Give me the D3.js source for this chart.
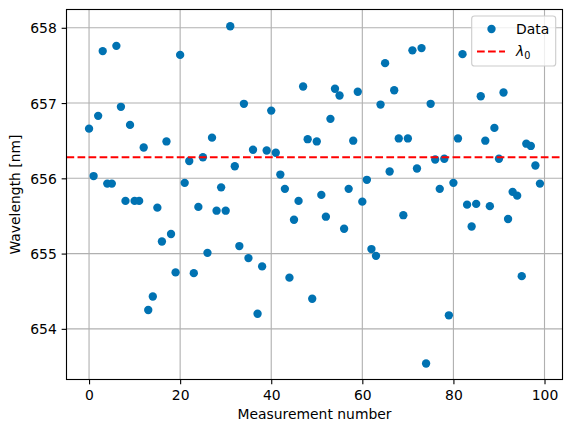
<!DOCTYPE html>
<html><head><meta charset="utf-8">
<script src="https://cdn.jsdelivr.net/npm/d3@7"></script>
<style>body{margin:0;background:#fff}svg{display:block;font-family:"DejaVu Sans",sans-serif}</style>
</head><body>
<svg id="c" width="571" height="432"></svg>
<script>
const measurement = d3.range(0, 100);
const wavelength = [
656.66,656.03,656.83,657.69,655.93,655.93,657.76,656.95,655.70,656.71,
655.70,655.70,656.41,654.25,654.43,655.61,655.16,656.49,655.26,654.75,
657.64,655.94,656.23,654.74,655.62,656.28,655.01,656.54,655.57,655.88,
655.57,658.02,656.16,655.10,656.99,654.94,656.38,654.20,654.83,656.37,
656.90,656.34,656.05,655.86,654.68,655.45,655.70,657.22,656.52,654.40,
656.49,655.78,655.49,656.79,657.19,657.10,655.33,655.86,656.50,657.15,
655.69,655.98,655.06,654.97,656.98,657.53,656.09,657.17,656.53,655.51,
656.53,657.70,656.13,657.73,653.54,656.99,656.25,655.86,656.26,654.18,
655.94,656.53,657.65,655.65,655.36,655.66,657.09,656.50,655.63,656.67,
656.26,657.14,655.46,655.82,655.77,654.70,656.46,656.43,656.17,655.93];
const lambda0 = 656.28;
const xTicks = [0, 20, 40, 60, 80, 100];
const yTicks = [654, 655, 656, 657, 658];
const legendLabels = ["Data", "λ0"];

const svg = d3.select("#c");
const L = 66.5, T = 9.5, W = 496, H = 370;
const x = d3.scaleLinear().domain([-4.95, 103.95]).range([L, L + W]);
const y = d3.scaleLinear().domain([653.327, 658.243]).range([T + H, T]);
const fs = 13.9;
const blue = "#0072b2";

// grid
const g = svg.append("g");
g.selectAll(".gx").data(xTicks).join("line")
  .attr("x1", d => x(d)).attr("x2", d => x(d)).attr("y1", T).attr("y2", T + H)
  .attr("stroke", "#b0b0b0").attr("stroke-width", 1.11);
g.selectAll(".gy").data(yTicks).join("line")
  .attr("y1", d => y(d)).attr("y2", d => y(d)).attr("x1", L).attr("x2", L + W)
  .attr("stroke", "#b0b0b0").attr("stroke-width", 1.11);

// points
svg.append("g").selectAll("circle").data(measurement).join("circle")
  .attr("cx", d => x(d)).attr("cy", (d, i) => y(wavelength[i])).attr("r", 4.17)
  .attr("fill", blue);

// lambda0 line
svg.append("line").attr("x1", L).attr("x2", L + W).attr("y1", y(lambda0)).attr("y2", y(lambda0))
  .attr("stroke", "#ff0000").attr("stroke-width", 2.08).attr("stroke-dasharray", "7.7,3.33");

// axes
const xAxis = d3.axisBottom(x).tickValues(xTicks).tickSize(4.86).tickPadding(4.86).tickFormat(d3.format("d"));
const yAxis = d3.axisLeft(y).tickValues(yTicks).tickSize(4.86).tickPadding(4.86).tickFormat(d3.format("d"));
const gx = svg.append("g").attr("transform", `translate(0,${T + H})`).call(xAxis);
const gy = svg.append("g").attr("transform", `translate(${L},0)`).call(yAxis);
[gx, gy].forEach(a => {
  a.select(".domain").remove();
  a.selectAll("line").attr("stroke", "#000").attr("stroke-width", 1.11);
  a.selectAll("text").attr("font-size", fs).attr("fill", "#000").attr("font-family", "DejaVu Sans");
});
gx.selectAll("text").attr("dy", null).attr("y", null)
  .attr("transform", null).attr("dominant-baseline", null)
  .each(function(){ d3.select(this).attr("y", 400 - (T + H)); });
gy.selectAll("text").attr("dy", "0.36em");

// frame
svg.append("rect").attr("x", L).attr("y", T).attr("width", W).attr("height", H)
  .attr("fill", "none").attr("stroke", "#000").attr("stroke-width", 1.11);

// labels
svg.append("text").attr("x", L + W / 2).attr("y", 419).attr("text-anchor", "middle")
  .attr("font-size", fs).text("Measurement number");
svg.append("text").attr("transform", `translate(20,${T + H / 2}) rotate(-90)`)
  .attr("text-anchor", "middle").attr("font-size", fs).text("Wavelength [nm]");

// legend
const lg = svg.append("g");
lg.append("rect").attr("x", 471.7).attr("y", 16).attr("width", 84).attr("height", 50)
  .attr("rx", 2.8).attr("fill", "#fff").attr("fill-opacity", 0.8)
  .attr("stroke", "#cccccc").attr("stroke-width", 1.11);
lg.append("circle").attr("cx", 491.5).attr("cy", 29).attr("r", 4.17).attr("fill", blue);
lg.append("text").attr("x", 516).attr("y", 34).attr("font-size", fs).text(legendLabels[0]);
lg.append("line").attr("x1", 477).attr("x2", 505).attr("y1", 51.5).attr("y2", 51.5)
  .attr("stroke", "#ff0000").attr("stroke-width", 2.08).attr("stroke-dasharray", "7.7,3.33");
const lt = lg.append("text").attr("x", 516).attr("y", 56).attr("font-size", fs);
lt.append("tspan").attr("font-style", "italic").text(legendLabels[1].charAt(0));
lt.append("tspan").attr("font-size", fs * 0.7).attr("dy", 3).text(legendLabels[1].slice(1));
</script>
</body></html>
